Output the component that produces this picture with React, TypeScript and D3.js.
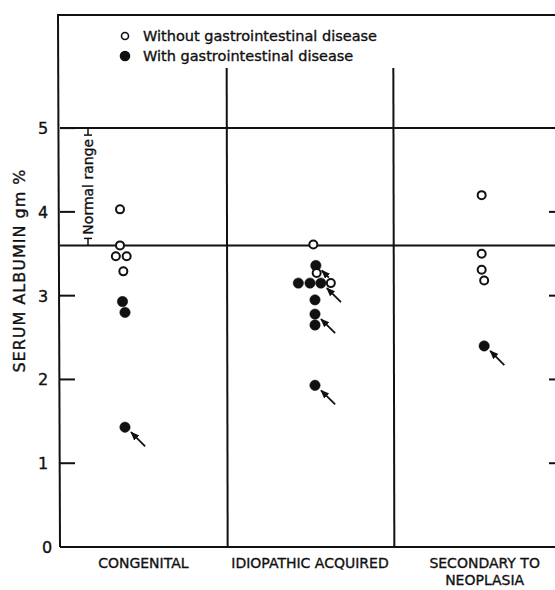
import * as d3 from "d3";

const categories = ["CONGENITAL", "IDIOPATHIC ACQUIRED", "SECONDARY TO NEOPLASIA"];
const categoryLines = [["CONGENITAL"], ["IDIOPATHIC ACQUIRED"], ["SECONDARY TO", "NEOPLASIA"]];
const yTicks = [0, 1, 2, 3, 4, 5];
const rightTicks = [1, 2, 3, 4];
const normalLow = 3.6;
const normalHigh = 5;
const yTop = 6.35;

// category, albumin value, filled = with GI disease, pos = place inside band (0..1), arrow length (0 = none)
type Pt = { cat: string; v: number; filled: boolean; pos: number; arrow: number };

const congenital: Pt[] = [
  { cat: categories[0], v: 4.03, filled: false, pos: 0.36, arrow: 0 },
  { cat: categories[0], v: 3.6, filled: false, pos: 0.36, arrow: 0 },
  { cat: categories[0], v: 3.47, filled: false, pos: 0.335, arrow: 0 },
  { cat: categories[0], v: 3.47, filled: false, pos: 0.4, arrow: 0 },
  { cat: categories[0], v: 3.29, filled: false, pos: 0.38, arrow: 0 },
  { cat: categories[0], v: 2.93, filled: true, pos: 0.375, arrow: 0 },
  { cat: categories[0], v: 2.8, filled: true, pos: 0.39, arrow: 0 },
  { cat: categories[0], v: 1.43, filled: true, pos: 0.39, arrow: 20 },
];

const idiopathic: Pt[] = [
  { cat: categories[1], v: 3.61, filled: false, pos: 0.52, arrow: 0 },
  { cat: categories[1], v: 3.36, filled: true, pos: 0.535, arrow: 10 },
  { cat: categories[1], v: 3.27, filled: false, pos: 0.54, arrow: 0 },
  { cat: categories[1], v: 3.15, filled: true, pos: 0.43, arrow: 0 },
  { cat: categories[1], v: 3.15, filled: true, pos: 0.5, arrow: 0 },
  { cat: categories[1], v: 3.15, filled: true, pos: 0.565, arrow: 20 },
  { cat: categories[1], v: 3.15, filled: false, pos: 0.625, arrow: 0 },
  { cat: categories[1], v: 2.95, filled: true, pos: 0.53, arrow: 0 },
  { cat: categories[1], v: 2.78, filled: true, pos: 0.53, arrow: 20 },
  { cat: categories[1], v: 2.65, filled: true, pos: 0.53, arrow: 0 },
  { cat: categories[1], v: 1.93, filled: true, pos: 0.53, arrow: 20 },
];

const secondary: Pt[] = [
  { cat: categories[2], v: 4.2, filled: false, pos: 0.53, arrow: 0 },
  { cat: categories[2], v: 3.5, filled: false, pos: 0.53, arrow: 0 },
  { cat: categories[2], v: 3.31, filled: false, pos: 0.53, arrow: 0 },
  { cat: categories[2], v: 3.18, filled: false, pos: 0.545, arrow: 0 },
  { cat: categories[2], v: 2.4, filled: true, pos: 0.545, arrow: 20 },
];

const legendItems = [
  { label: "Without gastrointestinal disease", filled: false },
  { label: "With gastrointestinal disease", filled: true },
];

export default function App() {
  const width = 555;
  const height = 590;
  const font = "'DejaVu Sans', Verdana, sans-serif";
  const ink = "#111";
  // scanned print looks heavy, thicken the glyphs a bit
  const textStyle = { fill: ink, stroke: ink, strokeWidth: 0.35 };

  const y = d3.scaleLinear().domain([0, yTop]).range([547, 15]);
  const x = d3.scaleBand<string>().domain(categories).range([60, 560]);
  const bw = x.bandwidth();

  const points = [...congenital, ...idiopathic, ...secondary];
  const px = (p: Pt) => (x(p.cat) ?? 0) + p.pos * bw;

  const left = x.range()[0];
  const dividerTop = 68;

  return (
    <svg width={width} height={height} style={{ position: "absolute", left: 0, top: 0, background: "#fff" }}>
      <defs>
        <marker id="ah" viewBox="0 0 10 10" refX="9" refY="5" markerWidth="5" markerHeight="5" orient="auto">
          <path d="M0,1 L10,5 L0,9 z" fill={ink} />
        </marker>
      </defs>
      <g stroke={ink} strokeWidth={2} fill="none">
        {/* frame */}
        <line x1={left - 3} y1={y(yTop)} x2={width} y2={y(yTop)} />
        <line x1={left - 2} y1={y(yTop)} x2={left} y2={y(0)} />
        <line x1={left} y1={y(0)} x2={width} y2={y(0)} />
        {/* normal range lines */}
        <line x1={left} y1={y(normalHigh)} x2={width} y2={y(normalHigh)} />
        <line x1={left} y1={y(normalLow)} x2={width} y2={y(normalLow)} />
        {/* category dividers */}
        {categories.slice(1).map((c) => (
          <line key={c} x1={x(c)} y1={dividerTop} x2={(x(c) ?? 0) + 1} y2={y(0)} />
        ))}
        {/* left ticks */}
        {yTicks.slice(1).map((t) => (
          <line key={t} x1={left} y1={y(t)} x2={left + 15} y2={y(t)} />
        ))}
        {/* right ticks (axis just off the page) */}
        {rightTicks.map((t) => (
          <line key={t} x1={width - 6} y1={y(t)} x2={width} y2={y(t)} />
        ))}
      </g>

      {/* y tick labels */}
      <g fontFamily={font} fontSize={16} textAnchor="middle" style={textStyle}>
        {yTicks.map((t) => (
          <text key={t} x={t === 0 ? 47 : 43} y={y(t) + 6}>{t}</text>
        ))}
      </g>

      {/* y axis title */}
      <text
        transform={`translate(25,${y(3.3)}) rotate(-90)`}
        fontFamily={font}
        fontSize={16}
        letterSpacing={1}
        textAnchor="middle"
        style={textStyle}
      >
        SERUM  ALBUMIN  gm  %
      </text>

      {/* normal range marker */}
      <g stroke={ink} strokeWidth={1.5}>
        <line x1={88} y1={y(normalHigh)} x2={88} y2={y(normalHigh) + 7} />
        <line x1={84} y1={y(normalHigh) + 7} x2={92} y2={y(normalHigh) + 7} />
        <line x1={88} y1={y(normalLow)} x2={88} y2={y(normalLow) - 7} />
        <line x1={84} y1={y(normalLow) - 7} x2={92} y2={y(normalLow) - 7} />
      </g>
      <text
        transform={`translate(93,${(y(normalHigh) + y(normalLow)) / 2}) rotate(-90)`}
        fontFamily={font}
        fontSize={14}
        textAnchor="middle"
        style={textStyle}
      >
        Normal range
      </text>

      {/* legend */}
      {legendItems.map((d, i) => (
        <g key={d.label} transform={`translate(125,${36 + i * 20})`}>
          <circle r={d.filled ? 4.5 : 3.5} fill={d.filled ? ink : "#fff"} stroke={ink} strokeWidth={1.6} />
          <text x={18} y={5} fontFamily={font} fontSize={14.5} style={textStyle}>{d.label}</text>
        </g>
      ))}

      {/* arrows */}
      {points.filter((p) => p.arrow > 0).map((p, i) => {
        const cx = px(p);
        const cy = y(p.v);
        const k = p.arrow / Math.SQRT2;
        return (
          <line
            key={"a" + i}
            x1={cx + 6 + k}
            y1={cy + 5 + k}
            x2={cx + 6}
            y2={cy + 5}
            stroke={ink}
            strokeWidth={1.8}
            markerEnd="url(#ah)"
          />
        );
      })}

      {/* points */}
      {points.map((p, i) => (
        <circle
          key={i}
          cx={px(p)}
          cy={y(p.v)}
          r={p.filled ? 5.2 : 4}
          fill={p.filled ? ink : "#fff"}
          stroke={ink}
          strokeWidth={p.filled ? 0.5 : 2}
        />
      ))}

      {/* category labels */}
      <g fontFamily={font} fontSize={14} textAnchor="middle" style={textStyle}>
        {categories.map((c, i) =>
          categoryLines[i].map((line, j) => (
            <text key={c + j} x={(x(c) ?? 0) + bw / 2 + (i === 2 ? 8 : 0)} y={568 + j * 17}>
              {line}
            </text>
          ))
        )}
      </g>
    </svg>
  );
}
